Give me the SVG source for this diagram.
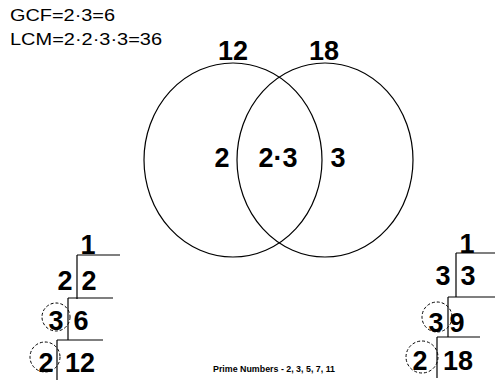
<svg xmlns="http://www.w3.org/2000/svg" width="495" height="380" viewBox="0 0 495 380">
<style>
.hdr{font-family:"Liberation Sans",Arial,sans-serif;font-size:16px;fill:#000}
.big{font-family:"Liberation Sans",Arial,sans-serif;font-size:27px;font-weight:bold;fill:#000;text-anchor:middle}
.small{font-family:"Liberation Sans",Arial,sans-serif;font-size:9px;font-weight:bold;fill:#000}
.ln{stroke:#000;stroke-width:1.2;fill:none}
.ring{stroke:#000;stroke-width:1.2;fill:none}
.dash{stroke:#000;stroke-width:1;fill:none;stroke-dasharray:3 2}
</style>
<rect width="495" height="380" fill="#fff"/>
<g id="header">
<text class="hdr" x="10" y="21" textLength="105" lengthAdjust="spacingAndGlyphs">GCF=2·3=6</text>
<text class="hdr" x="10" y="45" textLength="152" lengthAdjust="spacingAndGlyphs">LCM=2·2·3·3=36</text>
</g>
<g id="venn">
<ellipse class="ring" cx="233" cy="160" rx="89" ry="97"/>
<ellipse class="ring" cx="325" cy="160" rx="88" ry="97"/>
<text class="big" x="233" y="60">12</text>
<text class="big" x="324" y="60">18</text>
<text class="big" x="222" y="167">2</text>
<text class="big" x="278" y="167">2·3</text>
<text class="big" x="338" y="167">3</text>
</g>
<g id="ladder12">
<path class="ln" d="M77 255H120M77 255V299M68 298H113M68 298V340M57 340H103M57 340V380"/>
<circle class="dash" cx="56" cy="317" r="14"/>
<circle class="dash" cx="45" cy="357" r="15"/>
<text class="big" x="88" y="254">1</text>
<text class="big" x="65" y="290">2</text>
<text class="big" x="89" y="290">2</text>
<text class="big" x="56" y="330">3</text>
<text class="big" x="81" y="330">6</text>
<text class="big" x="46" y="372">2</text>
<text class="big" x="80" y="372">12</text>
</g>
<g id="ladder18">
<path class="ln" d="M456 253H495M456 253V297M448 297H495M448 297V337M437 337H480M437 337V378"/>
<circle class="dash" cx="437" cy="317" r="15"/>
<circle class="dash" cx="422" cy="357" r="16"/>
<text class="big" x="467" y="253">1</text>
<text class="big" x="443" y="285">3</text>
<text class="big" x="468" y="285">3</text>
<text class="big" x="436" y="332">3</text>
<text class="big" x="457" y="332">9</text>
<text class="big" x="420" y="370">2</text>
<text class="big" x="458" y="370">18</text>
</g>
<g id="primes">
<text class="small" x="213" y="372" textLength="122" lengthAdjust="spacingAndGlyphs">Prime Numbers - 2, 3, 5, 7, 11</text>
</g>
</svg>
